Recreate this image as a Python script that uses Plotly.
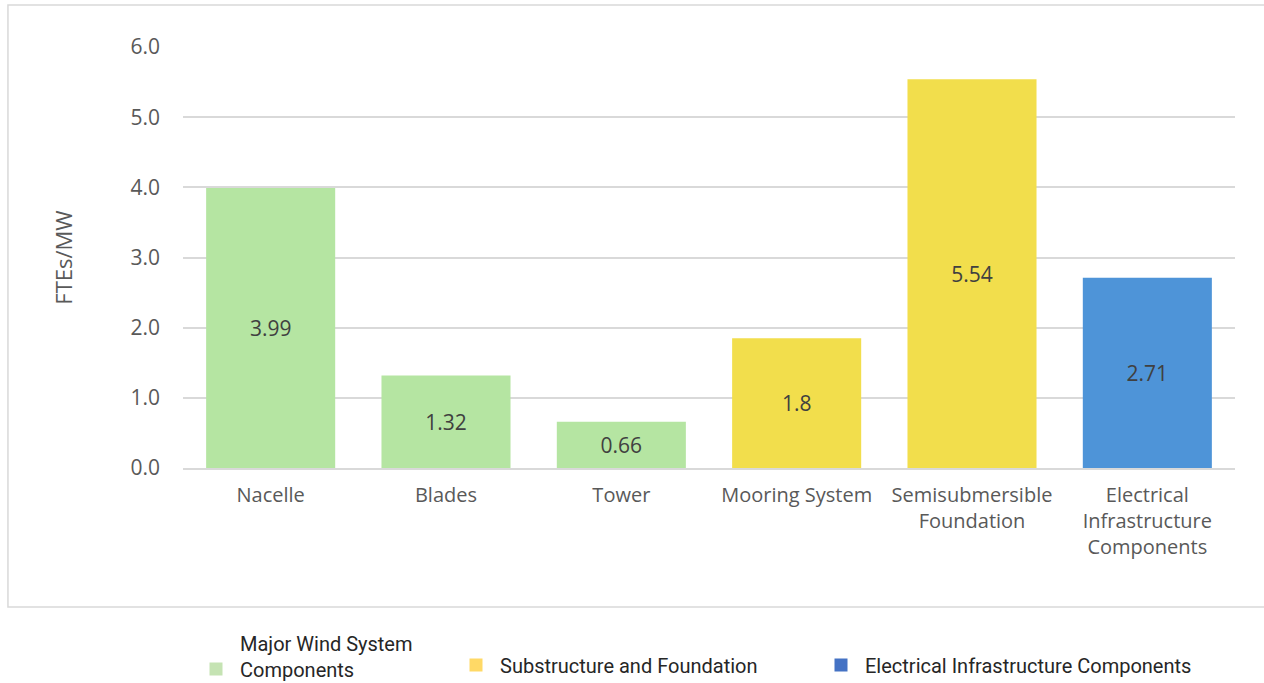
import plotly.graph_objects as go

categories = ["Nacelle", "Blades", "Tower", "Mooring System",
              "Semisubmersible<br>Foundation",
              "Electrical<br>Infrastructure<br>Components"]
values = [3.99, 1.32, 0.66, 1.85, 5.54, 2.71]
value_labels = ["3.99", "1.32", "0.66", "1.8", "5.54", "2.71"]
groups = ["Major Wind System Components", "Major Wind System Components",
          "Major Wind System Components", "Substructure and Foundation",
          "Substructure and Foundation", "Electrical Infrastructure Components"]
group_names = ["Major Wind System Components", "Substructure and Foundation",
               "Electrical Infrastructure Components"]
legend_labels = ["Major Wind System<br>Components", "Substructure and Foundation",
                 "Electrical Infrastructure Components"]
bar_colors = {"Major Wind System Components": "#B5E5A2",
              "Substructure and Foundation": "#F2DE4C",
              "Electrical Infrastructure Components": "#4E94D8"}
legend_colors = ["#C5E3B3", "#FFD966", "#4472C4"]
y_ticks = [0, 1, 2, 3, 4, 5, 6]

W, H = 1264, 683
fig = go.Figure()
fig.add_trace(go.Bar(
    x=categories, y=values,
    marker=dict(color=[bar_colors[g] for g in groups], line=dict(width=0)),
    text=value_labels, textposition="inside", insidetextanchor="middle",
    textfont=dict(size=21, color="#404040", family="Open Sans"),
    showlegend=False, hoverinfo="x+y",
))
legend_ids = ["legend", "legend2", "legend3"]
for name, lab, col, lid in zip(group_names, legend_labels, legend_colors, legend_ids):
    fig.add_trace(go.Scatter(
        x=[None], y=[None], mode="markers", name=lab, legend=lid,
        marker=dict(symbol="square", size=13, color=col),
    ))

leg_font = dict(family="Roboto", size=20, color="#262626")
common_leg = dict(orientation="h", xref="container", yref="container",
                  xanchor="left", yanchor="middle", font=leg_font,
                  itemwidth=38, bgcolor="rgba(0,0,0,0)")

fig.update_layout(
    width=W, height=H,
    margin=dict(l=183, r=29, t=47, b=215, autoexpand=False),
    paper_bgcolor="white", plot_bgcolor="white",
    bargap=0.264,
    font=dict(family="Open Sans", color="#595959"),
    xaxis=dict(
        type="category", automargin=False,
        tickfont=dict(size=20, color="#595959"),
        showgrid=False, showline=True, linecolor="#D9D9D9", linewidth=1.5,
        ticks="", fixedrange=True, ticklabelstandoff=8,
    ),
    yaxis=dict(
        range=[0, 6], tickvals=y_ticks, tickformat=".1f", automargin=False,
        tickfont=dict(size=21, color="#595959"),
        showgrid=True, gridcolor="#D9D9D9", gridwidth=1.5,
        zeroline=False, showline=False, ticks="",
        ticklabelstandoff=22, fixedrange=True,
        title=dict(text="FTEs/MW", font=dict(size=22, color="#595959"), standoff=51),
    ),
    legend=dict(common_leg, x=(213 - 21) / W, y=(H - 656) / H, valign="bottom"),
    legend2=dict(common_leg, x=(473 - 21) / W, y=(H - 665) / H),
    legend3=dict(common_leg, x=(838 - 21) / W, y=(H - 665) / H),
    shapes=[dict(type="rect", xref="paper", yref="paper",
                 x0=-0.1664, x1=1.03, y0=-0.330, y1=1.0998,
                 line=dict(color="#D9D9D9", width=1.5), layer="below")],
)

fig.write_html("out.html")
